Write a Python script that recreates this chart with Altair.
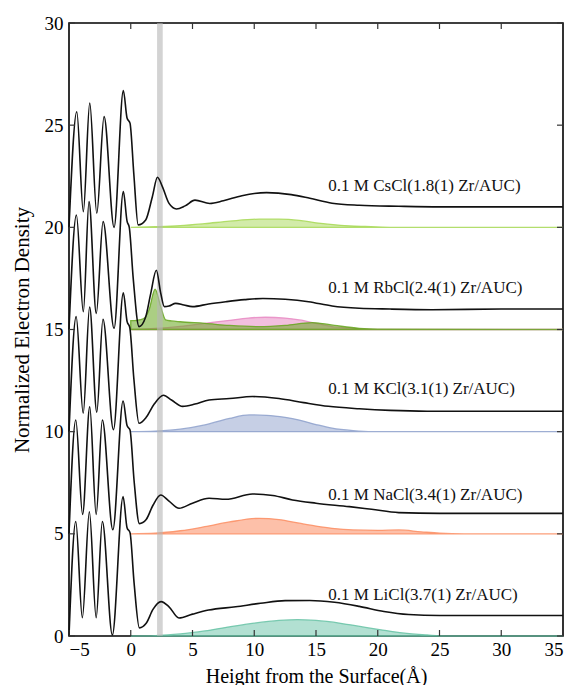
import altair as alt
import pandas as pd

# ---------------- data ----------------
licl_x = [-5, -4.45, -3.92, -3.35, -2.8, -2.3, -1.49, -0.62, -0.3, -0.06, 0.27, 0.7, 1.25, 1.8, 2.45, 3.1, 3.9, 5.0, 6.3, 8.5, 10.5, 12.5, 14.5, 16.5, 18.5, 20.5, 22.5, 25, 30, 35]
licl_y = [0, 5.6, 0.9, 6.08, 0.9, 5.6, 0.05, 6.82, 5.3, 5.06, 2.6, 0.4, 0.62, 1.3, 1.68, 1.43, 0.88, 1.07, 1.27, 1.43, 1.6, 1.73, 1.74, 1.65, 1.45, 1.2, 1.05, 1.0, 1.0, 1.0]

nacl_x = [-5, -4.45, -3.9, -3.32, -2.8, -2.3, -1.45, -0.62, -0.3, -0.06, 0.27, 0.7, 1.25, 1.8, 2.43, 3.1, 3.91, 5.0, 6.34, 7.7, 9.85, 11.5, 13.1, 15, 17.7, 19.5, 21.7, 25, 30, 35]
nacl_y = [5, 10.57, 5.95, 11.22, 5.95, 10.57, 5.2, 11.5, 10.3, 10.08, 7.6, 5.5, 5.7, 6.4, 6.9, 6.6, 6.25, 6.5, 6.74, 6.69, 6.95, 6.88, 6.66, 6.5, 6.33, 6.2, 6.04, 6.0, 6.0, 6.0]

kcl_x = [-5, -4.42, -3.85, -3.33, -2.75, -2.25, -1.4, -0.6, -0.3, -0.08, 0.25, 0.67, 1.25, 1.9, 2.65, 3.3, 4.2, 5.2, 6.34, 8, 9.85, 12, 14, 16, 18.5, 21, 24, 30, 35]
kcl_y = [10, 15.63, 10.9, 16.1, 10.95, 15.5, 10.1, 16.8, 15.4, 15.1, 12.6, 10.41, 10.7, 11.35, 11.78, 11.55, 11.24, 11.35, 11.55, 11.62, 11.72, 11.62, 11.42, 11.24, 11.12, 11.04, 11.0, 11.0, 11.0]

rbcl_x = [-5, -4.4, -3.84, -3.38, -2.79, -2.24, -1.35, -0.6, -0.3, -0.12, 0.2, 0.67, 1.2, 1.62, 2.07, 2.43, 2.72, 3.1, 3.64, 4.3, 5.0, 6.3, 7.7, 9.2, 10.7, 12.5, 14.4, 16.3, 18.5, 21, 24.4, 30, 35]
rbcl_y = [15, 20.6, 15.87, 21.26, 15.79, 20.28, 15.06, 21.75, 20.3, 20.0, 17.5, 15.14, 15.6, 16.77, 17.9, 16.77, 16.12, 16.15, 16.28, 16.2, 16.12, 16.25, 16.36, 16.46, 16.52, 16.48, 16.36, 16.15, 16.04, 16.0, 15.97, 16.0, 16.0]

cscl_x = [-5, -4.37, -3.84, -3.32, -2.75, -2.16, -1.35, -0.6, -0.3, -0.06, 0.25, 0.6, 1.21, 1.75, 2.16, 2.56, 3.1, 3.7, 4.4, 5.2, 6.4, 7.5, 9, 11, 13, 14.5, 16.3, 18.5, 21.7, 25, 30, 35]
cscl_y = [20, 25.66, 20.77, 26.08, 20.69, 25.42, 20.0, 26.69, 25.35, 25.1, 22.6, 20.12, 20.36, 21.5, 22.45, 21.99, 21.17, 20.9, 21.05, 21.33, 21.17, 21.3, 21.55, 21.7, 21.6, 21.42, 21.18, 21.08, 21.03, 21.0, 21.0, 21.0]

# ion distributions (filled areas)
fill_licl_x = [0, 2, 4, 6, 8, 10, 12, 13.5, 15, 17, 19, 20.4, 22, 24, 25.5, 35]
fill_licl_y = [0, 0.02, 0.1, 0.25, 0.45, 0.63, 0.76, 0.8, 0.76, 0.62, 0.42, 0.29, 0.15, 0.05, 0, 0]

fill_nacl_x = [0, 2, 4, 6, 8, 10.4, 12, 13.65, 15, 16.3, 18, 20, 21.7, 23.5, 25, 27, 35]
fill_nacl_y = [5, 5.03, 5.15, 5.35, 5.58, 5.76, 5.7, 5.52, 5.38, 5.27, 5.19, 5.17, 5.19, 5.1, 5.03, 5.0, 5.0]

fill_kcl_x = [0, 2, 4, 6, 8, 9.6, 11, 12.5, 13.65, 15, 16.3, 18, 19.5, 35]
fill_kcl_y = [10, 10.03, 10.12, 10.33, 10.65, 10.82, 10.8, 10.7, 10.57, 10.35, 10.17, 10.05, 10.0, 10.0]

fill_rb_pink_x = [0, 2, 4, 6, 8, 9.5, 10.9, 12.5, 13.65, 15, 16.3, 18, 20, 35]
fill_rb_pink_y = [15, 15.05, 15.15, 15.3, 15.45, 15.56, 15.6, 15.56, 15.47, 15.3, 15.14, 15.05, 15.0, 15.0]

fill_rb_green_x = [0, 0.5, 1.0, 1.48, 1.97, 2.43, 2.83, 3.3, 4, 6, 8, 10.4, 12.5, 14.7, 16.5, 18.5, 20, 35]
fill_rb_green_y = [15.43, 15.45, 15.52, 15.96, 16.97, 16.12, 15.47, 15.42, 15.38, 15.3, 15.2, 15.14, 15.2, 15.34, 15.2, 15.06, 15.02, 15.0]

fill_cscl_x = [0, 2, 4, 6, 8, 10.4, 12, 13.65, 15, 17, 19, 21, 35]
fill_cscl_y = [20, 20.03, 20.08, 20.18, 20.3, 20.4, 20.4, 20.34, 20.22, 20.1, 20.04, 20.0, 20.0]

fill_bases = [0, 5, 10, 15, 15, 20]
fill_colors = ["#66c2a5", "#fc8d62", "#8da0cb", "#e78ac3", "#66a61e", "#a6d854"]
fill_opac = [0.5, 0.55, 0.5, 0.55, 0.55, 0.5]

labels = ["0.1 M LiCl(3.7(1) Zr/AUC)", "0.1 M NaCl(3.4(1) Zr/AUC)", "0.1 M KCl(3.1(1) Zr/AUC)",
          "0.1 M RbCl(2.4(1) Zr/AUC)", "0.1 M CsCl(1.8(1) Zr/AUC)"]
label_x = [16.0, 16.0, 16.0, 16.0, 16.0]
label_y = [2.0, 6.9, 12.08, 17.02, 22.03]

band = [2.13, 2.59]
x_ticks = [-5, 0, 5, 10, 15, 20, 25, 30, 35]
y_ticks = [0, 5, 10, 15, 20, 25, 30]

# ---------------- chart ----------------
W, H = 494, 613
FONT = "Liberation Serif"
xs = alt.Scale(domain=[-5, 35], nice=False, zero=False)
ys = alt.Scale(domain=[0, 30], nice=False, zero=False)

x_axis = alt.Axis(values=x_ticks, title="Height from the Surface(Å)", ticks=False, domain=False, grid=False,
                  labelFont=FONT, labelFontSize=19, labelColor="black", labelPadding=4,
                  titleFont=FONT, titleFontSize=20, titleFontWeight="normal", titleColor="black",
                  titleY=40, titleBaseline="middle")
y_axis = alt.Axis(values=y_ticks, title="Normalized Electron Density", ticks=False, domain=False, grid=False,
                  labelFont=FONT, labelFontSize=19, labelColor="black", labelPadding=6,
                  titleFont=FONT, titleFontSize=21, titleFontWeight="normal", titleColor="black",
                  titleX=-47, titleY=H / 2, titleAngle=270, titleBaseline="middle", titleAlign="center")


def X(field="x:Q"):
    return alt.X(field, scale=xs, axis=x_axis)


def Y(field="y:Q", **kw):
    return alt.Y(field, scale=ys, axis=y_axis, **kw)


curves = [("LiCl", licl_x, licl_y), ("NaCl", nacl_x, nacl_y), ("KCl", kcl_x, kcl_y),
          ("RbCl", rbcl_x, rbcl_y), ("CsCl", cscl_x, cscl_y)]
lines_df = pd.concat([pd.DataFrame({"x": cx, "y": cy, "series": n}) for n, cx, cy in curves])

fills = [(fill_licl_x, fill_licl_y), (fill_nacl_x, fill_nacl_y), (fill_kcl_x, fill_kcl_y),
         (fill_rb_pink_x, fill_rb_pink_y), (fill_rb_green_x, fill_rb_green_y), (fill_cscl_x, fill_cscl_y)]

layers = []
for (fx, fy), base, col, op in zip(fills, fill_bases, fill_colors, fill_opac):
    df = pd.DataFrame({"x": fx, "y": fy, "base": [base] * len(fx)})
    layers.append(
        alt.Chart(df).mark_area(interpolate="monotone", fill=col, fillOpacity=op,
                                stroke=col, strokeOpacity=0.85, strokeWidth=1.3)
        .encode(x=X(), y=Y(stack=None), y2="base:Q")
    )

band_df = pd.DataFrame({"x": [band[0]], "x2": [band[1]]})
layers.append(
    alt.Chart(band_df).mark_rect(color="#b5b5b5", opacity=0.6)
    .encode(x=X(), x2="x2:Q", y=alt.value(0), y2=alt.value(H))
)

layers.append(
    alt.Chart(lines_df).mark_line(color="#111111", strokeWidth=1.6, interpolate="monotone")
    .encode(x=X(), y=Y(), detail="series:N")
)

text_df = pd.DataFrame({"x": label_x, "y": label_y, "t": labels})
layers.append(
    alt.Chart(text_df).mark_text(align="left", baseline="middle", font=FONT, fontSize=17, color="#111111")
    .encode(x=X(), y=Y(), text="t:N")
)

# inward ticks on all four sides
xt = pd.DataFrame({"x": x_ticks})
yt = pd.DataFrame({"y": y_ticks})
TL = 6
tick_style = dict(color="#333333", strokeWidth=1.2)
layers.append(alt.Chart(xt).mark_rule(**tick_style).encode(x=X(), y=alt.value(H - TL), y2=alt.value(H)))
layers.append(alt.Chart(xt).mark_rule(**tick_style).encode(x=X(), y=alt.value(0), y2=alt.value(TL)))
layers.append(alt.Chart(yt).mark_rule(**tick_style).encode(y=Y(), x=alt.value(0), x2=alt.value(TL)))
layers.append(alt.Chart(yt).mark_rule(**tick_style).encode(y=Y(), x=alt.value(W - TL), x2=alt.value(W)))

chart = (
    alt.layer(*layers)
    .properties(width=W, height=H,
                padding={"left": 61, "top": 15, "right": 3, "bottom": 49},
                autosize=alt.AutoSizeParams(type="none"),
                background="white")
    .configure_view(stroke="black", strokeWidth=1.6)
)

chart.save("out.html", embed_options={"renderer": "svg", "actions": False})
